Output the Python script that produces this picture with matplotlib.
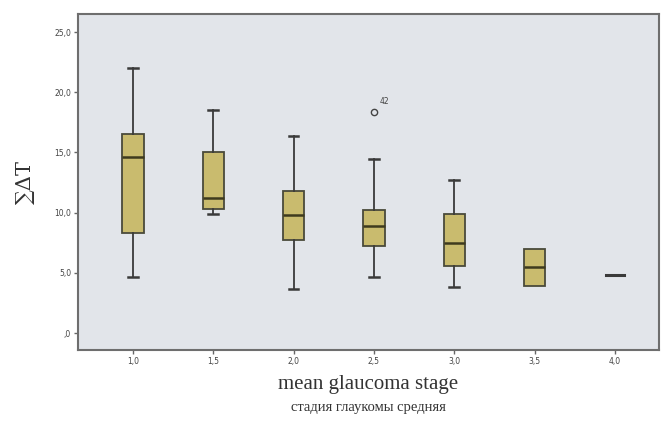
import matplotlib.pyplot as plt

# stage categories and box statistics
stages = ['1,0', '1,5', '2,0', '2,5', '3,0', '3,5', '4,0']
whislo = [4.7, 9.9, 3.7, 4.7, 3.8, 3.9, 4.8]
q1 = [8.3, 10.3, 7.7, 7.2, 5.6, 3.9, 4.8]
med = [14.6, 11.2, 9.8, 8.9, 7.45, 5.5, 4.8]
q3 = [16.5, 15.0, 11.8, 10.2, 9.9, 6.95, 4.8]
whishi = [22.0, 18.5, 16.4, 14.5, 12.7, 6.95, 4.8]
outlier_stage = 3
outlier_value = 18.4
outlier_label = '42'
y_ticks = [0, 5, 10, 15, 20, 25]
y_tick_labels = [',0', '5,0', '10,0', '15,0', '20,0', '25,0']

stats = []
for i in range(len(stages)):
    stats.append({'whislo': whislo[i], 'q1': q1[i], 'med': med[i],
                  'q3': q3[i], 'whishi': whishi[i], 'fliers': []})

fig = plt.figure(figsize=(6.63, 4.22), dpi=100)
ax = fig.add_axes([78 / 663, 1 - 350 / 422, (659 - 78) / 663, (350 - 14) / 422])
ax.set_facecolor('#e2e5ea')

pos = list(range(len(stages)))
style = dict(widths=0.265, patch_artist=True,
             boxprops=dict(facecolor='#c9bb6e', edgecolor='#4a4a3a', linewidth=1.3),
             medianprops=dict(color='#3e3a1e', linewidth=1.8),
             whiskerprops=dict(color='#3a3a3a', linewidth=1.3),
             capprops=dict(color='#3a3a3a', linewidth=1.8),
             capwidths=0.12)
# groups with whiskers get caps, the 3,5 group has none
ax.bxp(stats[:5], positions=pos[:5], **style)
ax.bxp(stats[5:6], positions=pos[5:6], showcaps=False, **style)

# last group has a single value: draw it as a flat dash
ax.plot([pos[-1] - 0.11, pos[-1] + 0.11], [med[-1], med[-1]], color='#3a3a3a', lw=2.2)

ax.plot(outlier_stage, outlier_value, 'o', mfc='none', mec='#444444', ms=4.5, mew=1.0)
ax.text(outlier_stage + 0.07, outlier_value + 0.45, outlier_label, fontsize=5.5,
        color='#444444', va='bottom', ha='left')

ax.set_xlim(-0.685, 6.55)
ax.set_ylim(-1.4, 26.5)
ax.set_xticks(pos)
ax.set_xticklabels(stages, fontsize=5.5, color='#444444')
ax.set_yticks(y_ticks)
ax.set_yticklabels(y_tick_labels, fontsize=5.5, color='#444444')
ax.tick_params(direction='out', length=3, width=1, color='#666666', pad=2)

for s in ax.spines.values():
    s.set_color('#6e6e6e')
    s.set_linewidth(1.5)

ax.set_ylabel('∑ΔT', family='DejaVu Serif', fontsize=15, color='#333333', labelpad=14)
fig.text(368 / 663, 1 - 384 / 422, 'mean glaucoma stage', family='Liberation Serif',
         fontsize=15, color='#333333', ha='center', va='center')
fig.text(368 / 663, 1 - 408 / 422, 'стадия глаукомы средняя', family='Liberation Serif',
         fontsize=10.5, color='#333333', ha='center', va='center')

fig.savefig('out.png', dpi=100)
